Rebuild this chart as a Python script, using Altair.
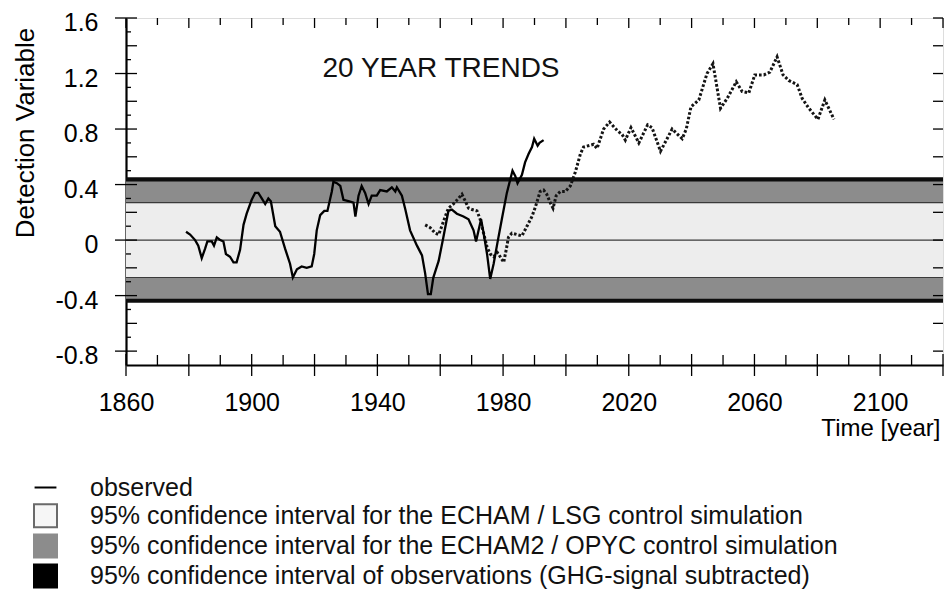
import altair as alt
import pandas as pd

FONT = "Liberation Sans"

# 20-year trends of the detection variable, observed record
obs_year = [1879.1, 1880.4, 1882.0, 1883.0, 1884.1, 1885.2, 1885.9, 1887.3, 1888.0, 1888.9,
            1890.0, 1891.0, 1891.8, 1893.1, 1894.2, 1895.2, 1896.3, 1897.4, 1898.4, 1900.0,
            1901.1, 1902.1, 1903.2, 1904.3, 1905.3, 1906.1, 1907.5, 1909.0, 1910.6, 1912.2,
            1913.1, 1914.4, 1915.9, 1917.5, 1919.1, 1919.9, 1920.7, 1921.8, 1923.1, 1924.1,
            1924.8, 1925.5, 1926.0, 1927.1, 1928.2, 1929.2, 1930.8, 1932.4, 1933.0, 1934.0,
            1935.0, 1936.1, 1937.2, 1938.2, 1939.8, 1940.9, 1943.0, 1944.6, 1945.7, 1946.2,
            1947.8, 1948.9, 1950.4, 1952.6, 1954.2, 1955.2, 1956.1, 1957.0, 1957.8, 1959.5,
            1961.0, 1962.6, 1963.7, 1965.3, 1967.4, 1969.0, 1970.6, 1971.4, 1972.2, 1973.0,
            1973.8, 1974.9, 1975.9, 1977.0, 1978.2, 1979.6, 1981.2, 1983.0, 1983.9, 1984.6,
            1986.0, 1987.0, 1988.1, 1989.2, 1989.9, 1991.0, 1991.6, 1992.9]
obs_value = [0.06, 0.04, 0.0, -0.04, -0.13, -0.06, -0.01, -0.01, -0.04, 0.02,
             0.0, -0.01, -0.10, -0.12, -0.16, -0.16, -0.07, 0.11, 0.19, 0.29,
             0.34, 0.34, 0.30, 0.26, 0.30, 0.28, 0.10, 0.06, -0.06, -0.17,
             -0.27, -0.21, -0.19, -0.20, -0.19, -0.10, 0.07, 0.18, 0.21, 0.21,
             0.28, 0.35, 0.42, 0.41, 0.39, 0.29, 0.28, 0.27, 0.17, 0.32,
             0.39, 0.34, 0.26, 0.32, 0.32, 0.36, 0.35, 0.38, 0.35, 0.38,
             0.32, 0.22, 0.07, -0.04, -0.11, -0.24, -0.39, -0.39, -0.27, -0.15,
             0.02, 0.21, 0.22, 0.19, 0.17, 0.15, 0.07, -0.01, 0.07, 0.15,
             0.05, -0.10, -0.28, -0.17, -0.02, 0.15, 0.34, 0.50, 0.46, 0.41,
             0.47, 0.56, 0.62, 0.67, 0.73, 0.68, 0.70, 0.72]

# 20-year trends of the greenhouse-gas scenario run (dotted)
scen_year = [1955.2, 1956.8, 1958.4, 1959.5, 1960.5, 1961.6, 1962.6, 1964.2, 1965.8, 1966.9,
             1968.0, 1969.0, 1970.1, 1971.7, 1972.7, 1973.8, 1974.9, 1975.9, 1977.0, 1978.2,
             1979.1, 1980.2, 1981.0, 1981.7, 1982.8, 1984.4, 1986.0, 1987.6, 1989.2, 1990.3,
             1991.8, 1992.9, 1993.9, 1995.0, 1995.9, 1996.9, 1998.2, 1999.8, 2001.4, 2003.0,
             2004.6, 2005.6, 2008.8, 2009.9, 2012.0, 2013.9, 2016.3, 2017.9, 2018.9, 2020.7,
             2023.2, 2026.0, 2027.4, 2030.1, 2033.8, 2037.0, 2038.3, 2039.8, 2042.3, 2044.9,
             2046.8, 2049.2, 2051.3, 2054.2, 2056.1, 2058.2, 2060.1, 2063.0, 2064.9, 2067.2,
             2069.1, 2070.9, 2073.6, 2075.2, 2077.3, 2080.2, 2082.4, 2085.3]
scen_value = [0.11, 0.09, 0.05, 0.04, 0.10, 0.17, 0.23, 0.26, 0.30, 0.33,
              0.28, 0.23, 0.22, 0.21, 0.15, 0.05, -0.05, -0.10, -0.12, -0.09,
              -0.12, -0.16, -0.07, 0.02, 0.05, 0.04, 0.03, 0.10, 0.17, 0.24,
              0.35, 0.36, 0.33, 0.27, 0.23, 0.32, 0.35, 0.35, 0.39, 0.49,
              0.62, 0.67, 0.69, 0.66, 0.80, 0.85, 0.79, 0.76, 0.72, 0.81,
              0.70, 0.83, 0.81, 0.64, 0.80, 0.73, 0.80, 0.96, 1.01, 1.20,
              1.27, 0.95, 1.02, 1.14, 1.07, 1.06, 1.19, 1.19, 1.21, 1.32,
              1.19, 1.15, 1.12, 1.02, 0.95, 0.87, 1.01, 0.87]

# half widths of the 95% confidence intervals
ci_lsg = 0.27       # ECHAM / LSG control simulation
ci_opyc = 0.422     # ECHAM2 / OPYC control simulation
ci_obs = 0.452      # observations, GHG signal subtracted

# axis ticks
x_major = list(range(1860, 2121, 20))
x_minor = list(range(1870, 2120, 20))
y_major = [-0.8, -0.4, 0, 0.4, 0.8, 1.2, 1.6]
y_mid = [-0.6, -0.2, 0.2, 0.6, 1.0, 1.4]
y_minor = [-0.7, -0.5, -0.3, -0.1, 0.1, 0.3, 0.5, 0.7, 0.9, 1.1, 1.3, 1.5]

legend_labels = [
    "observed",
    "95% confidence interval for the ECHAM / LSG control simulation",
    "95% confidence interval for the ECHAM2 / OPYC control simulation",
    "95% confidence interval of observations (GHG-signal subtracted)",
]
legend_fill = ["black", "#f6f6f6", "#8c8c8c", "black"]
legend_stroke = ["black", "#6a6a6a", "#8c8c8c", "black"]
legend_shape = ["M-0.95,0H0.95", "square", "square", "square"]

panel_title = "20 YEAR TRENDS"

W, H = 817, 347
x_scale = alt.Scale(domain=[1860, 2120], nice=False, zero=False)
y_scale = alt.Scale(domain=[-0.9, 1.6], nice=False, zero=False)

x_axis = alt.Axis(
    values=x_major,
    labelExpr=f"(datum.value - {x_major[0]}) % 40 == 0 ? '' + datum.value : ''",
    ticks=False, tickSize=0, grid=False,
    domain=True, domainColor="black", domainWidth=2.2,
    labelFont=FONT, labelFontSize=25, labelColor="black", labelPadding=25,
    labelFlush=False, labelOverlap=False, labelBaseline="top",
    title="Time [year]", titleFont=FONT, titleFontSize=24, titleFontWeight="normal",
    titleColor="black", titleX=814, titleY=70, titleAlign="right",
    titleBaseline="alphabetic")

y_axis = alt.Axis(
    values=y_major, labelExpr="'' + datum.value",
    ticks=False, tickSize=0, grid=False,
    domain=True, domainColor="black", domainWidth=2.2,
    labelFont=FONT, labelFontSize=25, labelColor="black", labelPadding=28,
    labelOffset=4.5, labelFlush=False, labelOverlap=False,
    labelAlign="right", labelBaseline="middle",
    title="Detection Variable", titleFont=FONT, titleFontSize=26,
    titleFontWeight="normal", titleColor="black", titleX=-93, titleY=114.5,
    titleAngle=270, titleAlign="center", titleBaseline="alphabetic")


def X(field):
    return alt.X(field, scale=x_scale, axis=x_axis)


def Y(field):
    return alt.Y(field, scale=y_scale, axis=y_axis)


obs_df = pd.DataFrame({"year": obs_year, "value": obs_value})
scen_df = pd.DataFrame({"year": scen_year, "value": scen_value})


def band(half, color):
    df = pd.DataFrame({"lo": [-half], "hi": [half]})
    return alt.Chart(df).mark_rect(fill=color, stroke=None).encode(
        x=alt.value(0), x2=alt.value(W), y=Y("lo:Q"), y2="hi:Q")


bands = [band(ci_obs, "#0d0d0d"), band(ci_opyc, "#8c8c8c"), band(ci_lsg, "#ededed")]

edge_lines = alt.Chart(pd.DataFrame({"v": [-ci_lsg, 0, ci_lsg]})).mark_rule(
    color="#3a3a3a", strokeWidth=1.1).encode(
    x=alt.value(0), x2=alt.value(W), y=Y("v:Q"))

scenario = alt.Chart(scen_df).mark_line(
    color="#141414", strokeWidth=3.0, strokeDash=[2.6, 2.0]).encode(
    x=X("year:Q"), y=Y("value:Q"))

observed = alt.Chart(obs_df).mark_line(color="black", strokeWidth=2.3).encode(
    x=X("year:Q"), y=Y("value:Q"))


def xticks(values, y0, y1):
    return alt.Chart(pd.DataFrame({"t": values})).mark_rule(
        color="black", strokeWidth=1.3).encode(
        x=X("t:Q"), y=alt.value(y0), y2=alt.value(y1))


def yticks(values, x0, x1):
    return alt.Chart(pd.DataFrame({"t": values})).mark_rule(
        color="black", strokeWidth=1.3).encode(
        y=Y("t:Q"), x=alt.value(x0), x2=alt.value(x1))


ticks = [
    xticks(x_major, H - 11, H + 11),     # bottom, crossing
    xticks(x_minor, H - 10, H),          # bottom, inward
    xticks(x_major, 0, 10),              # top
    xticks(x_minor, 0, 7),
    yticks(y_major, -11, 11),            # left, crossing
    yticks(y_mid, 0, 11),                # left, inward
    yticks(y_minor, 0, 5),
    yticks(y_major + y_mid, W - 10, W),  # right
]

title_text = alt.Chart(pd.DataFrame({"label": [panel_title]})).mark_text(
    font=FONT, fontSize=28, color="#111", align="center", baseline="alphabetic").encode(
    x=alt.value(315), y=alt.value(59), text="label:N")

key = alt.Legend(
    title=None, orient="none", direction="vertical", legendX=-93, legendY=457,
    labelFont=FONT, labelFontSize=25, labelColor="#111", labelLimit=1000,
    labelOffset=32, rowPadding=-0.8, padding=0, symbolSize=529,
    symbolStrokeWidth=2, symbolOpacity=1)

legend_layer = alt.Chart(pd.DataFrame({"label": legend_labels})).mark_point(
    filled=True, opacity=1).encode(
    fill=alt.Fill("label:N", scale=alt.Scale(domain=legend_labels, range=legend_fill), legend=key),
    stroke=alt.Stroke("label:N", scale=alt.Scale(domain=legend_labels, range=legend_stroke), legend=key),
    shape=alt.Shape("label:N", scale=alt.Scale(domain=legend_labels, range=legend_shape), legend=key),
).transform_filter("false")

chart = alt.layer(
    *bands, edge_lines, scenario, observed, *ticks, title_text, legend_layer
).properties(
    width=W, height=H,
    autosize=alt.AutoSizeParams(type="none"),
    padding={"left": 126, "top": 18, "right": 3, "bottom": 224},
).configure_view(
    stroke="black", strokeWidth=1.5
).configure(background="white")

chart.save("out.html", embed_options={"renderer": "svg", "actions": False})
